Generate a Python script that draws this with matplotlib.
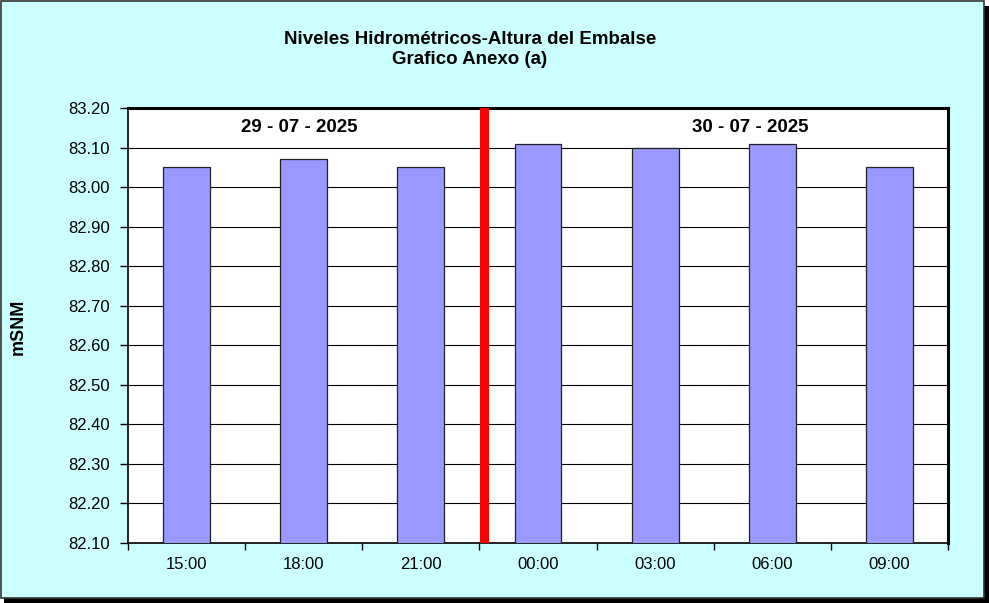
import matplotlib.pyplot as plt
from matplotlib.patches import Rectangle

horas = ["15:00", "18:00", "21:00", "00:00", "03:00", "06:00", "09:00"]
niveles = [83.05, 83.07, 83.05, 83.11, 83.10, 83.11, 83.05]
fechas = ["29 - 07 - 2025", "30 - 07 - 2025"]
cambio_dia = 2.54  # entre 21:00 y 00:00

plt.rcParams['font.family'] = ['Liberation Sans', 'DejaVu Sans']

W, H = 989, 603
fig = plt.figure(figsize=(W / 100, H / 100), dpi=100)
fig.patch.set_facecolor("white")

# marco exterior con sombra
fig.patches.append(Rectangle((4 / W, 0), (W - 4) / W, (H - 6) / H, transform=fig.transFigure,
                             facecolor="black", edgecolor="none", zorder=-2))
fig.patches.append(Rectangle((1 / W, 5 / H), (W - 6) / W, (H - 6) / H, transform=fig.transFigure,
                             facecolor="#CCFFFF", edgecolor="#333333", linewidth=1.2, zorder=-1))

ax = fig.add_axes([128 / W, 60 / H, 820 / W, 435 / H])
ax.set_facecolor("white")

x = range(len(horas))
ax.bar(x, niveles, width=0.4, bottom=0, color="#9999FF", edgecolor="#222222", linewidth=0.9, zorder=3)
ax.axvline(cambio_dia, color="#FF0000", linewidth=6.5, zorder=4)

ax.set_xlim(-0.5, len(horas) - 0.5)
ax.set_ylim(82.10, 83.20)
yt = [82.10 + 0.1 * i for i in range(12)]
ax.set_yticks(yt)
ax.set_yticklabels([f"{v:.2f}" for v in yt], fontsize=12)
ax.yaxis.grid(True, color="black", linewidth=0.8, zorder=0)

ax.set_xticks(list(x))
ax.set_xticklabels(horas, fontsize=12)
ax.set_xticks([i - 0.5 for i in range(len(horas) + 1)], minor=True)
ax.tick_params(axis="x", which="major", length=0, pad=10)
ax.tick_params(axis="x", which="minor", length=5, direction="out", width=1)
ax.tick_params(axis="y", length=6, direction="out", width=1, pad=7)

for s in ax.spines.values():
    s.set_color("black")
ax.spines["left"].set_linewidth(1.2)
ax.spines["bottom"].set_linewidth(1.2)
ax.spines["top"].set_linewidth(2.2)
ax.spines["right"].set_linewidth(2.2)

ax.text(0.96, 83.15, fechas[0], ha="center", va="center", fontsize=13.5, fontweight="bold", zorder=5)
ax.text(4.81, 83.15, fechas[1], ha="center", va="center", fontsize=13.5, fontweight="bold", zorder=5)

fig.text(18 / W, 1 - 327 / H, "mSNM", rotation=90, ha="center", va="center",
         fontsize=13, fontweight="bold")

fig.text(470 / W, 1 - 39 / H, "Niveles Hidrométricos-Altura del Embalse", ha="center", va="center",
         fontsize=13.5, fontweight="bold")
fig.text(470 / W, 1 - 60 / H, "Grafico Anexo (a)", ha="center", va="center",
         fontsize=13.5, fontweight="bold")

fig.savefig("out.png", dpi=100)
